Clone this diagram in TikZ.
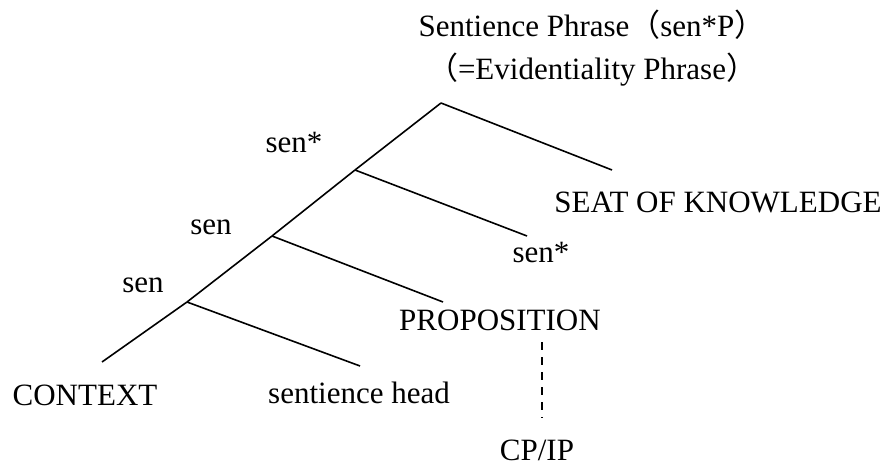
\documentclass[tikz,border=0pt]{standalone}
\usepackage{fontspec}
\setmainfont{Liberation Serif}
\newfontfamily\cjk{Noto Sans CJK SC}
\begin{document}
\begin{tikzpicture}[x=1pt,y=-1pt,
  branch/.style={line width=1.6pt},
  lbl/.style={inner sep=0pt,anchor=base,font=\fontsize{31}{36}\selectfont}]
\useasboundingbox (0,0) rectangle (886,465);
% branch points
\coordinate (n1) at (441,103);
\coordinate (n2) at (355,170);
\coordinate (n3) at (272,236);
\coordinate (n4) at (187,302);
\coordinate (e1) at (612,170);
\coordinate (e2) at (527,236);
\coordinate (e3) at (443,302);
\coordinate (e4) at (102,362);
\coordinate (e5) at (360,366);
% labels
\node[lbl] (title) at (592,37) {Sentience Phrase{\cjk（}sen*P{\cjk）}};
\node[lbl] (evid) at (592,80) {{\cjk（}=Evidentiality Phrase{\cjk）}};
\node[lbl] (sstar1) at (294,153) {sen*};
\node[lbl] (seat) at (718,212) {SEAT OF KNOWLEDGE};
\node[lbl] (sen1) at (211,235) {sen};
\node[lbl] (sstar2) at (541,262) {sen*};
\node[lbl] (sen2) at (143,292) {sen};
\node[lbl] (prop) at (500,330) {PROPOSITION};
\node[lbl] (context) at (85,405) {CONTEXT};
\node[lbl] (head) at (359,403) {sentience head};
\node[lbl] (cpip) at (537,460) {CP/IP};
\coordinate (d1) at (542,342);
\coordinate (d2) at (542,418);
% branches
\draw[branch] (n1) -- (n2);
\draw[branch] (n1) -- (e1);
\draw[branch] (n2) -- (n3);
\draw[branch] (n2) -- (e2);
\draw[branch] (n3) -- (n4);
\draw[branch] (n3) -- (e3);
\draw[branch] (n4) -- (e4);
\draw[branch] (n4) -- (e5);
\draw[line width=1.4pt,dash pattern=on 8pt off 7pt] (d1) -- (d2);
\end{tikzpicture}
\end{document}
